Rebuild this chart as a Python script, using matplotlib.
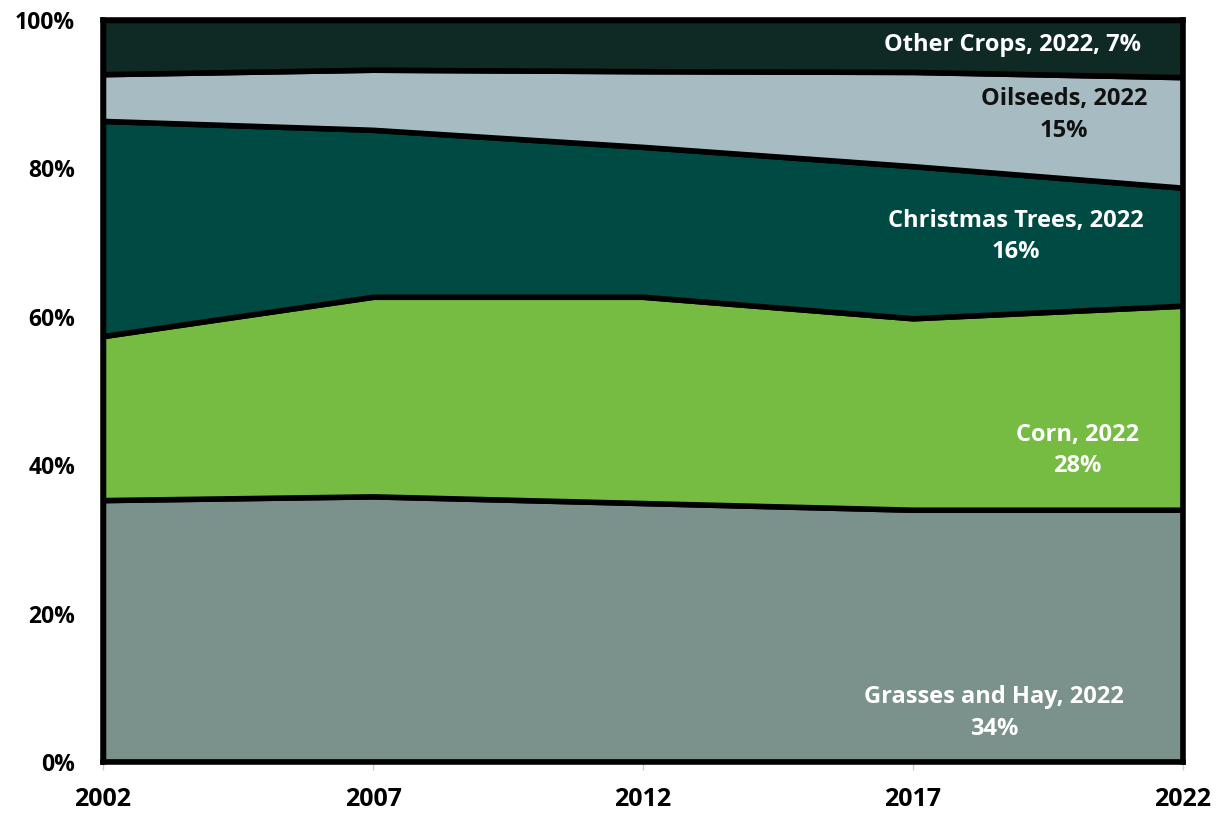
import numpy as np
import matplotlib.pyplot as plt

# share of acreage by crop group, census years
years = [2002, 2007, 2012, 2017, 2022]
grasses = [35.3, 35.8, 34.9, 34.0, 34.0]
corn = [22.1, 26.9, 27.8, 25.8, 27.5]
xmas_trees = [29.0, 22.5, 20.2, 20.5, 15.9]
oilseeds = [6.3, 8.1, 10.2, 12.7, 14.9]
other = [7.3, 6.7, 6.9, 7.0, 7.7]

colors = ["#7b918b", "#76bc43", "#004a44", "#a6bcc2", "#0f2a24"]

plt.rcParams['font.family'] = ['Open Sans', 'DejaVu Sans']

fig = plt.figure(figsize=(12.22, 8.14), dpi=100)
ax = fig.add_axes([103/1222, 1-762/814, 1080/1222, 742/814])

ax.stackplot(years, grasses, corn, xmas_trees, oilseeds, other,
             colors=colors, edgecolor='black', linewidth=4)

ax.set_xlim(2002, 2022)
ax.set_ylim(0, 100)
ax.set_xticks(years)
ax.set_xticklabels([str(y) for y in years], fontsize=18, fontweight='bold')
ax.set_yticks(range(0, 101, 20))
ax.set_yticklabels([f"{v}%" for v in range(0, 101, 20)], fontsize=16.5, fontweight='bold')
ax.tick_params(axis='y', length=0, pad=20)
ax.tick_params(axis='x', length=6, width=1, color='#cccccc', pad=12)
for s in ax.spines.values():
    s.set_linewidth(4)
    s.set_color('black')

# end-of-series labels
kw = dict(ha='center', va='center', fontsize=17, fontweight='bold', linespacing=1.4)
ax.text(2018.5, 6.6, f"Grasses and Hay, 2022\n{round(grasses[-1])}%", color='white', **kw)
ax.text(2020.05, 42.0, f"Corn, 2022\n{round(corn[-1])}%", color='white', **kw)
ax.text(2018.9, 70.8, f"Christmas Trees, 2022\n{round(xmas_trees[-1])}%", color='white', **kw)
ax.text(2019.8, 87.2, f"Oilseeds, 2022\n{round(oilseeds[-1])}%", color='#111111', **kw)
ax.text(2018.85, 96.6, "Other Crops, 2022, 7%", color='white', **kw)

fig.savefig('out.png', dpi=100)
